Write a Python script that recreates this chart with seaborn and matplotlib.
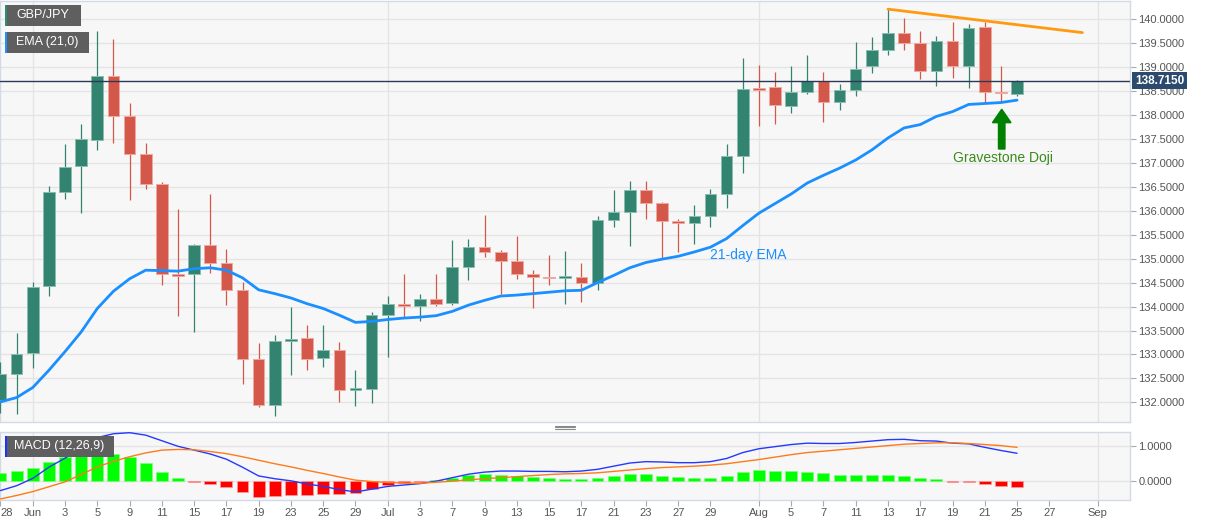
import numpy as np
import matplotlib
matplotlib.use("Agg")
import matplotlib.pyplot as plt
import matplotlib.transforms as mtransforms
from matplotlib.patches import Rectangle, FancyArrow
from matplotlib.lines import Line2D
import seaborn as sns

# ---------------- data ----------------
opens = [132.05, 132.60, 133.03, 134.42, 136.39, 136.93, 137.47, 138.81, 137.97, 137.19,
         136.55, 134.66, 134.67, 135.29, 134.92, 134.34, 132.90, 131.94, 133.28, 133.35,
         132.92, 133.10, 132.26, 132.28, 133.83, 134.06, 134.02, 134.15, 134.08, 134.83,
         135.24, 135.14, 134.96, 134.68, 134.60, 134.60, 134.62, 134.50, 135.81, 135.97,
         136.44, 136.16, 135.78, 135.74, 135.90, 136.36, 137.15, 138.54, 138.58, 138.19,
         138.49, 138.72, 138.28, 138.53, 139.03, 139.36, 139.72, 139.50, 138.91, 139.55,
         139.03, 139.84, 138.47, 138.44]
highs = [132.85, 133.44, 134.51, 136.51, 137.40, 137.81, 139.76, 139.58, 138.25, 137.42,
         136.60, 136.04, 135.31, 136.35, 135.21, 134.51, 133.23, 133.40, 133.99, 133.61,
         133.61, 133.25, 132.67, 133.88, 134.22, 134.69, 134.27, 134.67, 135.40, 135.42,
         135.92, 135.19, 135.48, 134.77, 135.08, 135.17, 134.90, 135.90, 136.44, 136.63,
         136.63, 136.19, 135.82, 136.13, 136.46, 137.40, 139.20, 139.05, 138.90, 139.03,
         139.26, 138.90, 138.65, 139.53, 139.63, 140.21, 140.03, 139.76, 139.65, 139.95,
         139.90, 139.95, 139.03, 138.73]
lows = [131.78, 131.75, 132.71, 134.22, 136.25, 135.96, 137.27, 137.42, 136.23, 136.45,
        134.46, 133.80, 133.47, 134.71, 134.04, 132.38, 131.90, 131.72, 132.58, 132.67,
        132.73, 132.01, 131.93, 131.99, 132.94, 133.78, 133.69, 134.01, 134.03, 134.56,
        135.03, 134.27, 134.58, 133.96, 134.46, 134.05, 134.10, 134.34, 135.66, 135.26,
        135.83, 135.00, 135.13, 135.31, 135.66, 136.06, 136.79, 137.76, 137.81, 138.04,
        138.44, 137.85, 138.10, 138.39, 138.87, 139.25, 139.35, 138.75, 138.60, 138.78,
        138.56, 138.26, 138.28, 138.40]
closes = [132.59, 133.02, 134.41, 136.39, 136.92, 137.49, 138.81, 137.97, 137.19, 136.55,
          134.67, 134.64, 135.29, 134.92, 134.34, 132.90, 131.94, 133.28, 133.33, 132.91,
          133.10, 132.26, 132.28, 133.83, 134.05, 134.02, 134.15, 134.06, 134.83, 135.24,
          135.14, 134.96, 134.69, 134.61, 134.59, 134.62, 134.50, 135.81, 135.97, 136.44,
          136.16, 135.78, 135.74, 135.89, 136.35, 137.15, 138.54, 138.53, 138.21, 138.49,
          138.72, 138.28, 138.52, 138.95, 139.35, 139.72, 139.51, 138.91, 139.55, 139.03,
          139.81, 138.47, 138.46, 138.715]
ema21 = [132.01, 132.10, 132.31, 132.67, 133.06, 133.47, 133.96, 134.32, 134.58, 134.76,
         134.75, 134.74, 134.79, 134.81, 134.76, 134.60, 134.35, 134.27, 134.18, 134.06,
         133.96, 133.82, 133.67, 133.69, 133.73, 133.76, 133.78, 133.81, 133.90, 134.03,
         134.13, 134.22, 134.24, 134.27, 134.30, 134.33, 134.34, 134.50, 134.65, 134.81,
         134.92, 134.99, 135.05, 135.14, 135.24, 135.42, 135.69, 135.95, 136.15, 136.35,
         136.58, 136.74, 136.89, 137.06, 137.27, 137.52, 137.73, 137.80, 137.97, 138.07,
         138.22, 138.24, 138.26, 138.31]
macd_line = [-0.27, -0.13, 0.08, 0.40, 0.66, 0.94, 1.25, 1.36, 1.39, 1.32,
             1.16, 1.00, 0.89, 0.78, 0.63, 0.40, 0.15, 0.07, 0.01, -0.08,
             -0.15, -0.24, -0.31, -0.23, -0.15, -0.11, -0.07, 0.00, 0.10, 0.20,
             0.26, 0.29, 0.29, 0.28, 0.28, 0.27, 0.29, 0.34, 0.43, 0.52,
             0.56, 0.55, 0.53, 0.53, 0.56, 0.65, 0.82, 0.93, 0.99, 1.05,
             1.09, 1.08, 1.08, 1.11, 1.15, 1.19, 1.20, 1.16, 1.15, 1.09,
             1.07, 0.97, 0.88, 0.80]
signal_line = [-0.51, -0.41, -0.30, -0.16, -0.02, 0.19, 0.41, 0.57, 0.70, 0.81,
               0.89, 0.91, 0.90, 0.85, 0.79, 0.70, 0.60, 0.50, 0.41, 0.31,
               0.22, 0.12, 0.03, -0.01, -0.04, -0.05, -0.06, -0.03, 0.00, 0.04,
               0.07, 0.10, 0.13, 0.16, 0.19, 0.21, 0.22, 0.24, 0.28, 0.32,
               0.36, 0.39, 0.41, 0.43, 0.46, 0.50, 0.56, 0.62, 0.69, 0.76,
               0.82, 0.86, 0.90, 0.94, 0.98, 1.02, 1.06, 1.08, 1.10, 1.10,
               1.08, 1.05, 1.02, 0.97]
macd_hist = [0.24, 0.28, 0.38, 0.56, 0.68, 0.75, 0.84, 0.79, 0.69, 0.51,
             0.27, 0.09, -0.01, -0.07, -0.16, -0.30, -0.45, -0.43, -0.40, -0.39,
             -0.37, -0.36, -0.34, -0.22, -0.11, -0.06, -0.01, 0.03, 0.10, 0.17,
             0.21, 0.19, 0.16, 0.12, 0.09, 0.06, 0.07, 0.10, 0.15, 0.20,
             0.20, 0.16, 0.12, 0.10, 0.10, 0.15, 0.26, 0.31, 0.30, 0.29,
             0.27, 0.22, 0.18, 0.17, 0.17, 0.17, 0.14, 0.08, 0.05, -0.01,
             -0.01, -0.08, -0.14, -0.16]
trend_x = [55, 67.05]
trend_y = [140.21, 139.72]
last_price = 138.715
tick_pos = [0, 2, 4, 6, 8, 10, 12, 14, 16, 18, 20, 22, 24, 26, 28, 30, 32, 34, 36, 38,
            40, 42, 44, 47, 49, 51, 53, 55, 57, 59, 61, 63, 65, 68]
tick_labels = ["28", "Jun", "3", "5", "9", "11", "15", "17", "19", "23", "25", "29",
               "Jul", "3", "7", "9", "13", "15", "17", "21", "23", "27", "29",
               "Aug", "5", "7", "11", "13", "17", "19", "21", "25", "27", "Sep"]
month_pos = [2, 24, 47, 68]
price_ticks = [132.0, 132.5, 133.0, 133.5, 134.0, 134.5, 135.0, 135.5, 136.0,
               136.5, 137.0, 137.5, 138.0, 138.5, 139.0, 139.5, 140.0]
doji_index = 62

# ---------------- style ----------------
sns.set_theme(style="white")
plt.rcParams['font.family'] = ['Liberation Sans', 'DejaVu Sans']

W, H = 1207, 526
fig = plt.figure(figsize=(W / 100, H / 100), dpi=100, facecolor="white")
ax = fig.add_axes([0, 1 - 422 / H, 1130 / W, 421 / H])
axm = fig.add_axes([0, 1 - 500 / H, 1130 / W, 68 / H])

GREEN = "#32836f"
RED = "#d3584a"
GREEN_EDGE = "#8cbdb0"
RED_EDGE = "#efa9a0"
SPINE = "#d3d9e6"
GRID = "#e4e4e4"
TXT = "#555555"

for a in (ax, axm):
    a.set_facecolor("#f7f7f7")
    for s in a.spines.values():
        s.set_color(SPINE)
        s.set_linewidth(1)
    a.set_xlim(-0.03, 70.0)
    for m in month_pos:
        a.axvline(m, color=GRID, lw=1, zorder=0)

# ---------------- candles ----------------
o = np.array(opens); h = np.array(highs); l = np.array(lows); c = np.array(closes)
idx = np.arange(len(c))
up = c > o
col = np.where(up, GREEN, RED)
ecol = np.where(up, GREEN_EDGE, RED_EDGE)
body_lo = np.minimum(o, c)
body_h = np.maximum(np.abs(c - o), 0.03)

ax.set_ylim(131.59, 140.38)
for t in price_ticks:
    ax.axhline(t, color=GRID, lw=1, zorder=0)

ax.vlines(idx, l, h, colors=col, lw=0.9, zorder=3)
ax.bar(idx, body_h, bottom=body_lo, width=0.72, color=col, edgecolor=ecol,
       linewidth=0.7, zorder=4)

sns.lineplot(x=idx, y=ema21, ax=ax, color="#1a8fff", linewidth=2.0, zorder=5)
sns.lineplot(x=trend_x, y=trend_y, ax=ax, color="#ff9a10", linewidth=2.0, zorder=5)
ax.axhline(last_price, color="#2a3a55", lw=1.0, zorder=6)

ax.yaxis.tick_right()
ax.set_yticks(price_ticks)
ax.set_yticklabels([f"{t:.4f}" for t in price_ticks])
ax.tick_params(axis="y", right=True, length=4, width=0.8, color="#aaaaaa",
               labelsize=8, labelcolor=TXT, pad=2)
ax.set_xticks([])
ax.set_xlabel(""); ax.set_ylabel("")

trans = mtransforms.blended_transform_factory(ax.transAxes, ax.transData)
ax.text(1.0045, last_price, f"{last_price:.4f}", transform=trans, ha="left", va="center",
        color="white", fontsize=8.5, fontweight="bold", zorder=10,
        bbox=dict(boxstyle="square,pad=0.22", fc="#2c4a6e", ec="none"))

# annotations
ax.text(44.0, 135.07, "21-day EMA", color="#1a8fff", fontsize=10, ha="left", va="center", zorder=7)
ax.text(62.15, 137.11, "Gravestone Doji", color="#3a8a1c", fontsize=10, ha="center", va="center", zorder=7)
ax.add_patch(FancyArrow(doji_index + 0.05, 137.29, 0, 0.83, width=0.4, head_width=1.15,
                        head_length=0.28, length_includes_head=True, color="#008000", zorder=7))

# ---------------- MACD ----------------
hist = np.array(macd_hist)
axm.set_ylim(-0.54, 1.41)
for t in (0.0, 1.0):
    axm.axhline(t, color=GRID, lw=1, zorder=0)
hcol = np.where(hist >= 0, "#00ff00", "#ff0000")
hedge = np.where(hist >= 0, "#7dff7d", "#ff9a9a")
axm.bar(idx, hist, width=0.74, color=hcol, edgecolor=hedge, linewidth=0.5, zorder=3)
sns.lineplot(x=idx, y=macd_line, ax=axm, color="#2438ff", linewidth=1.0, zorder=4)
sns.lineplot(x=idx, y=signal_line, ax=axm, color="#ff7a1a", linewidth=1.0, zorder=4)
axm.yaxis.tick_right()
axm.set_yticks([0.0, 1.0])
axm.set_yticklabels(["0.0000", "1.0000"])
axm.tick_params(axis="y", right=True, length=4, width=0.8, color="#aaaaaa",
                labelsize=8, labelcolor=TXT, pad=2)
axm.set_xticks(tick_pos)
axm.set_xticklabels(tick_labels)
axm.tick_params(axis="x", bottom=True, length=4, width=0.8, color="#aaaaaa",
                labelsize=8, labelcolor=TXT, pad=2)
first_lbl = axm.get_xticklabels()[0]
first_lbl.set_horizontalalignment("left")
first_lbl.set_x(0)
axm.set_xlabel(""); axm.set_ylabel("")


# ---------------- legend boxes ----------------
def pixbox(x0, y0, x1, y1, color):
    fig.add_artist(Rectangle((x0 / W, 1 - y1 / H), (x1 - x0) / W, (y1 - y0) / H,
                             transform=fig.transFigure, fc=color, ec="none", zorder=20))


def pixtext(x, y, s):
    fig.text(x / W, 1 - y / H, s, color="white", fontsize=9, ha="left", va="center", zorder=21)


pixbox(5, 5, 81, 26, "#5f5f5f"); pixbox(5, 5, 7, 26, "#2e8b6e"); pixtext(16, 15.5, "GBP/JPY")
pixbox(5, 32, 89, 53, "#5f5f5f"); pixbox(5, 32, 7, 53, "#1e90ff"); pixtext(16, 42.5, "EMA (21,0)")
pixbox(5, 436, 114, 457, "#5f5f5f"); pixbox(5, 436, 7, 457, "#1a33ff"); pixtext(14, 446.5, "MACD (12,26,9)")

# drag handle between panes
for yy in (425.5, 427.3, 429.1):
    fig.add_artist(Line2D([555 / W, 575 / W], [1 - yy / H, 1 - yy / H], transform=fig.transFigure,
                          color="#8a8a8a", lw=0.8))

fig.savefig("out.png", dpi=100, facecolor="white")
